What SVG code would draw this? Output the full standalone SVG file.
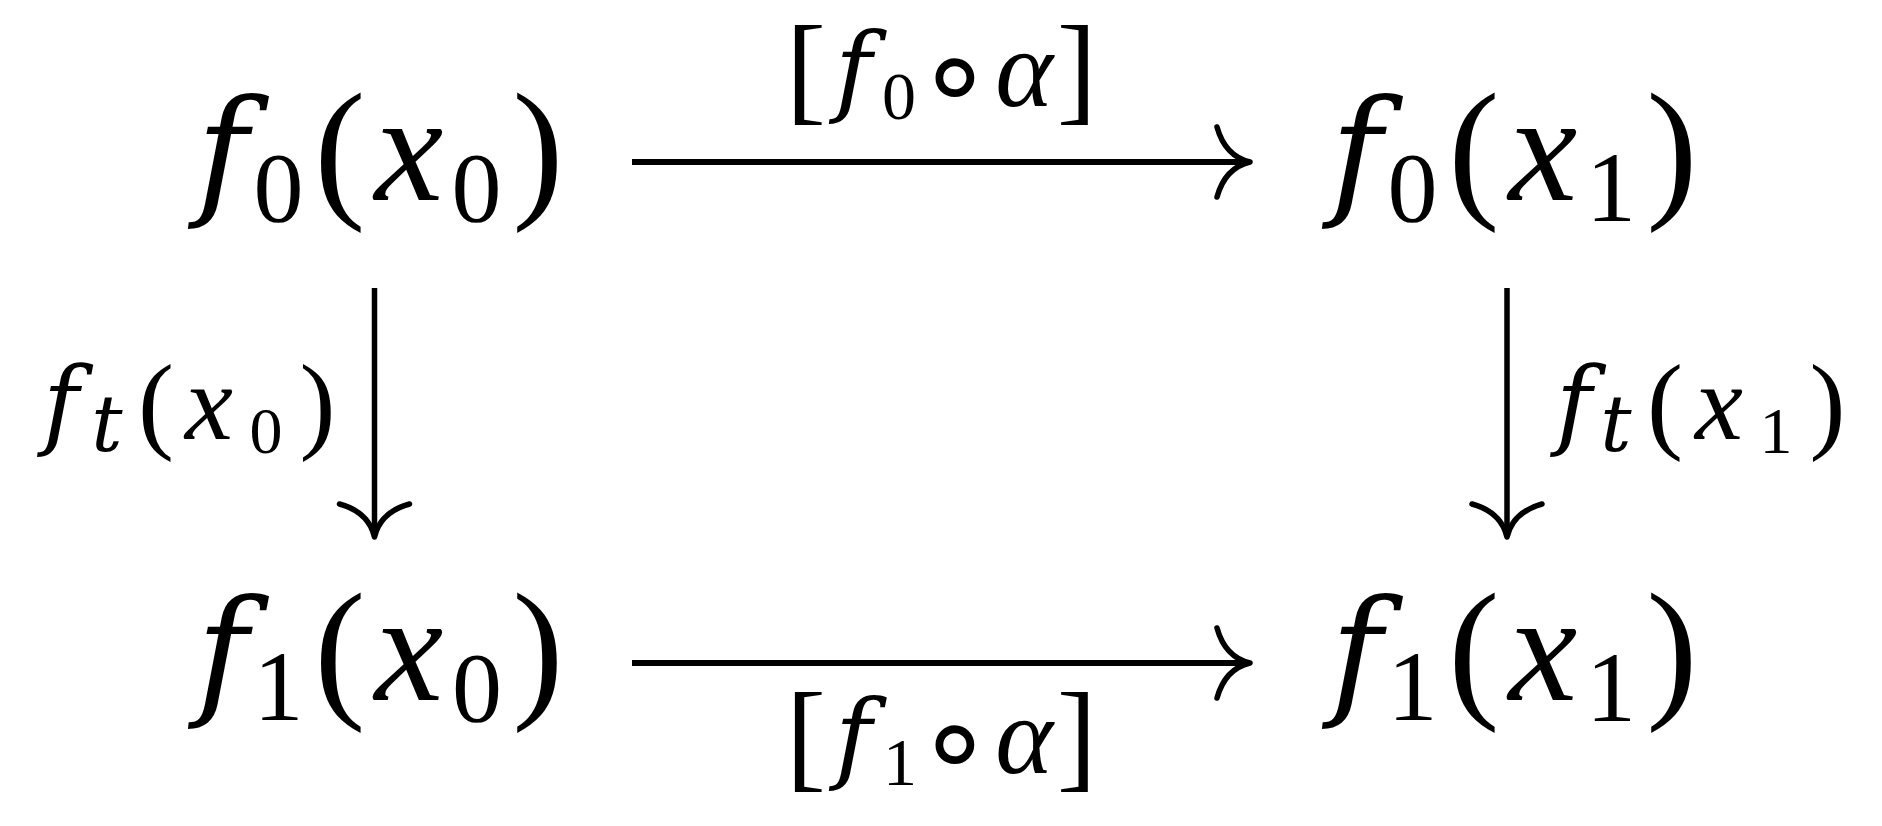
<svg xmlns="http://www.w3.org/2000/svg" xmlns:xlink="http://www.w3.org/1999/xlink" width="1882" height="826" viewBox="0 0 1882 826">
<style>
.t{font-family:"Liberation Serif","Times New Roman",serif;fill:#000;text-anchor:middle}
.i{font-style:italic}
.d{font-family:"DejaVu Serif",serif;font-style:italic}
.o{font-family:"DejaVu Sans Mono","DejaVu Sans",monospace;font-style:normal}
.ln{stroke:#000;stroke-width:6;fill:none}
.ah{stroke:#000;stroke-width:5.5;fill:none;stroke-linecap:round;stroke-linejoin:round}
</style>
<defs>
<path id="ah" class="ah" d="M-33,-35 C-28,-17 -17,-4 0,0 C-17,4 -28,17 -33,35"/>
</defs>
<rect width="1882" height="826" fill="#fff"/>
<g id="n00">
<text class="t"><tspan class="d" x="222.5" y="200" font-size="140">f</tspan><tspan x="278.5" y="221" font-size="100">0</tspan><tspan x="340" y="200" font-size="154">(</tspan><tspan class="i" x="409" y="200" font-size="155">x</tspan><tspan x="476.5" y="221" font-size="100">0</tspan><tspan x="538" y="200" font-size="154">)</tspan></text>
</g>
<g id="n01">
<text class="t"><tspan class="d" x="1356.5" y="200" font-size="140">f</tspan><tspan x="1412.5" y="221" font-size="100">0</tspan><tspan x="1474" y="200" font-size="154">(</tspan><tspan class="i" x="1543" y="200" font-size="155">x</tspan><tspan x="1611" y="221" font-size="100">1</tspan><tspan x="1672" y="200" font-size="154">)</tspan></text>
</g>
<g id="n10">
<text class="t"><tspan class="d" x="222.5" y="700" font-size="140">f</tspan><tspan x="278.5" y="720" font-size="100">1</tspan><tspan x="340" y="700" font-size="154">(</tspan><tspan class="i" x="409" y="700" font-size="155">x</tspan><tspan x="477" y="721" font-size="100">0</tspan><tspan x="538" y="700" font-size="154">)</tspan></text>
</g>
<g id="n11">
<text class="t"><tspan class="d" x="1356.5" y="700" font-size="140">f</tspan><tspan x="1412.5" y="720" font-size="100">1</tspan><tspan x="1474" y="700" font-size="154">(</tspan><tspan class="i" x="1543" y="700" font-size="155">x</tspan><tspan x="1611" y="721" font-size="100">1</tspan><tspan x="1672" y="700" font-size="154">)</tspan></text>
</g>
<g id="connectors">
<g id="e-top">
<line class="ln" x1="632" y1="162" x2="1248" y2="162"/>
<use xlink:href="#ah" href="#ah" transform="translate(1250,162)"/>
<text class="t"><tspan x="806" y="109.4" font-size="120">[</tspan><tspan class="d" x="853.5" y="103" font-size="100">f</tspan><tspan x="899" y="119" font-size="68">0</tspan><tspan class="o" x="955" y="116.5" font-size="125">∘</tspan><tspan class="i" x="1024" y="106" font-size="110">α</tspan><tspan x="1076.7" y="109.4" font-size="120">]</tspan></text>
</g>
<g id="e-bottom">
<line class="ln" x1="632" y1="663" x2="1248" y2="663"/>
<use xlink:href="#ah" href="#ah" transform="translate(1250,663)"/>
<text class="t"><tspan x="806" y="776.4" font-size="120">[</tspan><tspan class="d" x="853.5" y="770" font-size="100">f</tspan><tspan x="900" y="785" font-size="68">1</tspan><tspan class="o" x="955" y="783.5" font-size="125">∘</tspan><tspan class="i" x="1024" y="773" font-size="110">α</tspan><tspan x="1076.7" y="776.4" font-size="120">]</tspan></text>
</g>
<g id="e-left">
<line class="ln" x1="374.5" y1="288" x2="374.5" y2="535" style="stroke-width:5.5"/>
<use xlink:href="#ah" href="#ah" transform="translate(374.5,537) rotate(90)"/>
<text class="t"><tspan class="d" x="61" y="437" font-size="97">f</tspan><tspan class="d" x="107" y="451" font-size="78">t</tspan><tspan x="156" y="438.6" font-size="108">(</tspan><tspan class="i" x="209" y="439" font-size="108">x</tspan><tspan x="266" y="453" font-size="66">0</tspan><tspan x="317.6" y="438.6" font-size="108">)</tspan></text>
</g>
<g id="e-right">
<line class="ln" x1="1507" y1="288" x2="1507" y2="535" style="stroke-width:5.5"/>
<use xlink:href="#ah" href="#ah" transform="translate(1507,537) rotate(90)"/>
<text class="t"><tspan class="d" x="1574" y="437" font-size="97">f</tspan><tspan class="d" x="1616" y="451" font-size="78">t</tspan><tspan x="1665" y="438.6" font-size="108">(</tspan><tspan class="i" x="1719" y="439" font-size="108">x</tspan><tspan x="1776" y="453" font-size="66">1</tspan><tspan x="1827.6" y="438.6" font-size="108">)</tspan></text>
</g>
</g>
</svg>
